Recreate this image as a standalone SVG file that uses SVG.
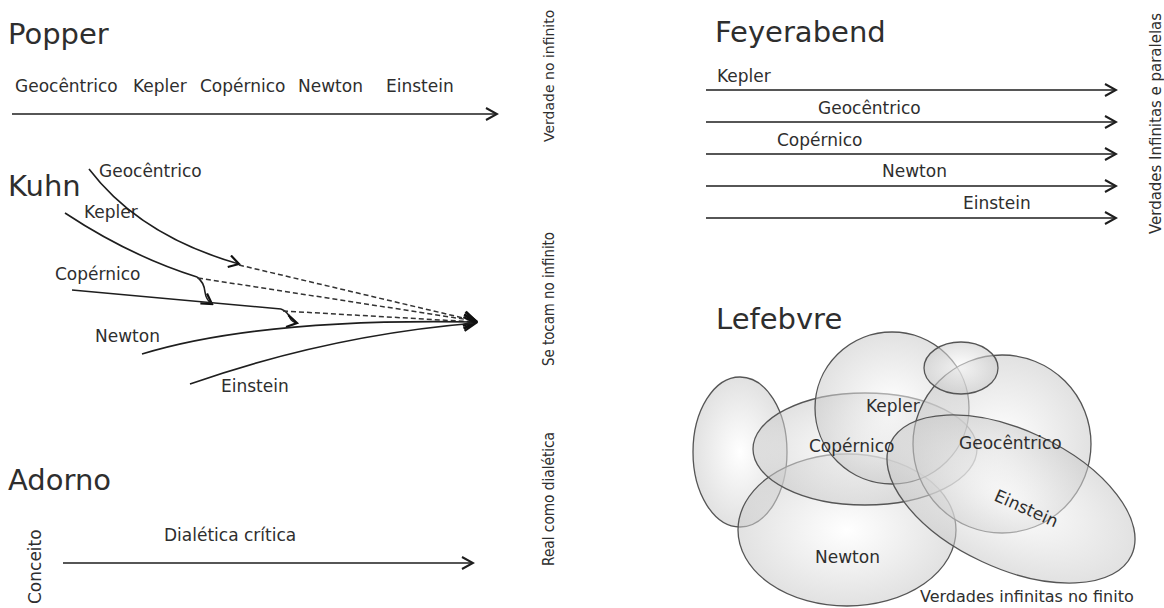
<svg xmlns="http://www.w3.org/2000/svg" width="1164" height="608" viewBox="0 0 1164 608">
<style>
text{font-family:"DejaVu Sans","Liberation Sans",sans-serif;fill:#2e2e2e}
.title{font-size:29px}
.lbl{font-size:17px}
.vt{font-size:15.5px}
.ln{fill:none;stroke:#1e1e1e;stroke-width:1.6}
.dash{fill:none;stroke:#333;stroke-width:1.5;stroke-dasharray:5 3}
.ell{fill:url(#g);fill-opacity:0.55;stroke:#555;stroke-width:1.3}
</style>
<defs>
<marker id="chev" markerUnits="userSpaceOnUse" markerWidth="16" markerHeight="16" viewBox="0 0 16 16" refX="14" refY="8" orient="auto">
<path d="M3,2 L14,8 L3,14" fill="none" stroke="#1e1e1e" stroke-width="2"/>
</marker>
<marker id="chevB" markerUnits="userSpaceOnUse" markerWidth="18" markerHeight="18" viewBox="0 0 18 18" refX="16" refY="9" orient="auto">
<path d="M4,2 L16,9 L4,16" fill="none" stroke="#111" stroke-width="2.2"/>
</marker>
<marker id="chevS" markerUnits="userSpaceOnUse" markerWidth="14" markerHeight="14" viewBox="0 0 14 14" refX="12" refY="7" orient="auto">
<path d="M2,1 L12,7 L2,13" fill="none" stroke="#111" stroke-width="2.2"/>
</marker>
<radialGradient id="g" cx="0.5" cy="0.5" r="0.55">
<stop offset="0" stop-color="#ffffff"/>
<stop offset="1" stop-color="#c4c4c4"/>
</radialGradient>
</defs>

<g id="popper">
<text class="title" x="8" y="44">Popper</text>
<text class="lbl" x="15" y="92">Geocêntrico</text>
<text class="lbl" x="133" y="92">Kepler</text>
<text class="lbl" x="200" y="92">Copérnico</text>
<text class="lbl" x="298" y="92">Newton</text>
<text class="lbl" x="386" y="92">Einstein</text>
<text style="font-size:14px" transform="translate(554,142) rotate(-90)">Verdade no infinito</text>
</g>

<g id="kuhn">
<text class="title" x="8" y="196">Kuhn</text>
<text class="lbl" x="99" y="177">Geocêntrico</text>
<text class="lbl" x="84" y="218">Kepler</text>
<text class="lbl" x="55" y="280">Copérnico</text>
<text class="lbl" x="95" y="342">Newton</text>
<text class="lbl" x="221" y="392">Einstein</text>
<text class="vt" transform="translate(554,366) rotate(-90)" textLength="134" lengthAdjust="spacingAndGlyphs">Se tocam no infinito</text>
</g>

<g id="adorno">
<text class="title" x="8" y="490">Adorno</text>
<text class="lbl" transform="translate(41,604) rotate(-90)">Conceito</text>
<text class="lbl" x="164" y="541">Dialética crítica</text>
<text class="vt" transform="translate(554,566) rotate(-90)" textLength="134" lengthAdjust="spacingAndGlyphs">Real como dialética</text>
</g>

<g id="feyerabend">
<text class="title" x="715" y="42">Feyerabend</text>
<text class="lbl" x="717" y="82">Kepler</text>
<text class="lbl" x="818" y="114">Geocêntrico</text>
<text class="lbl" x="777" y="146">Copérnico</text>
<text class="lbl" x="882" y="177">Newton</text>
<text class="lbl" x="963" y="209">Einstein</text>
<text class="vt" style="font-size:15px" transform="translate(1161,234) rotate(-90)" textLength="221" lengthAdjust="spacingAndGlyphs">Verdades Infinitas e paralelas</text>
</g>

<g id="lefebvre">
<text class="title" x="716" y="329">Lefebvre</text>
<ellipse class="ell" cx="740" cy="452" rx="47" ry="75"/>
<ellipse class="ell" cx="847" cy="530" rx="109" ry="76"/>
<ellipse class="ell" cx="865" cy="449" rx="112" ry="56"/>
<ellipse class="ell" cx="892" cy="408" rx="77" ry="76"/>
<ellipse class="ell" cx="1002" cy="444" rx="89" ry="89"/>
<ellipse class="ell" cx="961" cy="368" rx="37" ry="26"/>
<ellipse class="ell" transform="translate(1011,499) rotate(25)" cx="0" cy="0" rx="133" ry="69"/>
<text class="lbl" x="866" y="412">Kepler</text>
<text class="lbl" x="809" y="452">Copérnico</text>
<text class="lbl" x="959" y="449">Geocêntrico</text>
<text class="lbl" transform="translate(993,500) rotate(24)">Einstein</text>
<text class="lbl" x="815" y="563">Newton</text>
<text style="font-size:16px" x="920" y="602">Verdades infinitas no finito</text>
</g>

<g id="connectors">
<line class="ln" x1="12" y1="114" x2="497" y2="114" marker-end="url(#chev)"/>
<line class="ln" x1="63" y1="563" x2="473" y2="563" marker-end="url(#chev)"/>
<line class="ln" x1="706" y1="90" x2="1116" y2="90" marker-end="url(#chev)"/>
<line class="ln" x1="706" y1="122" x2="1116" y2="122" marker-end="url(#chev)"/>
<line class="ln" x1="706" y1="154" x2="1116" y2="154" marker-end="url(#chev)"/>
<line class="ln" x1="706" y1="186" x2="1116" y2="186" marker-end="url(#chev)"/>
<line class="ln" x1="706" y1="218" x2="1116" y2="218" marker-end="url(#chev)"/>
<path class="ln" d="M89,169 Q140,236 239,264" marker-end="url(#chevS)"/>
<path class="dash" d="M239,265 L476,321" marker-end="url(#chevB)"/>
<path class="ln" d="M65,213 Q130,256 197,277"/>
<path class="ln" d="M197,277 Q204,282 205,292 Q206,300 212,304" marker-end="url(#chevS)"/>
<path class="dash" d="M198,278 L476,321" marker-end="url(#chevB)"/>
<path class="ln" d="M72,290 Q180,300 281,309"/>
<path class="ln" d="M281,309 Q288,312 290,318 Q292,322 297,323" marker-end="url(#chevS)"/>
<path class="dash" d="M283,311 L476,322" marker-end="url(#chevB)"/>
<path class="ln" d="M142,354 Q260,318 476,322" marker-end="url(#chevB)"/>
<path class="ln" d="M190,384 Q330,335 476,323" marker-end="url(#chevB)"/>
</g>
</svg>
